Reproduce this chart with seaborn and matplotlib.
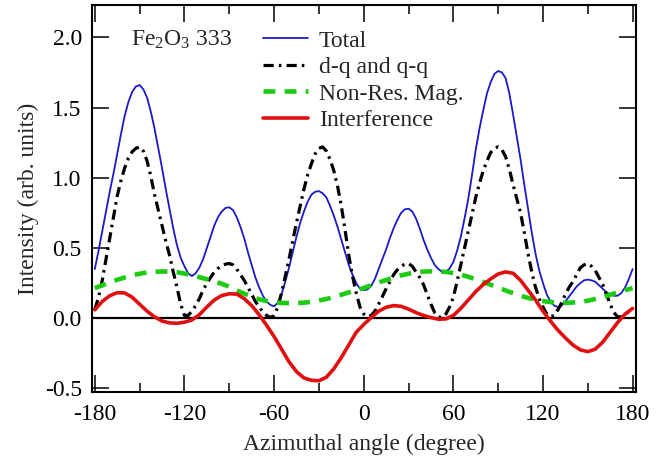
import numpy as np
import pandas as pd
import matplotlib
matplotlib.use("Agg")
import matplotlib.pyplot as plt
import seaborn as sns

# ---------------- data ----------------
# fine reading grid (2.5 deg) for the sharp curves, coarse (5 deg) for the smooth ones
angle_fine = [-180 + 2.5 * i for i in range(145)]
angle_coarse = list(range(-180, 181, 5))

total = [0.35, 0.48, 0.62, 0.76, 0.90, 1.03, 1.17, 1.31, 1.44, 1.54, 1.61, 1.65,
         1.66, 1.63, 1.57, 1.47, 1.35, 1.21, 1.07, 0.92, 0.78, 0.64, 0.52, 0.43,
         0.37, 0.32, 0.30, 0.32, 0.36, 0.42, 0.50, 0.58, 0.66, 0.72, 0.76, 0.785,
         0.79, 0.77, 0.72, 0.65, 0.57, 0.47, 0.38, 0.29, 0.22, 0.16, 0.12, 0.095,
         0.085, 0.11, 0.17, 0.26, 0.36, 0.47, 0.58, 0.68, 0.76, 0.83, 0.88, 0.90,
         0.905, 0.89, 0.86, 0.80, 0.73, 0.65, 0.56, 0.47, 0.38, 0.31, 0.25, 0.21,
         0.20, 0.205, 0.23, 0.28, 0.35, 0.42, 0.49, 0.57, 0.64, 0.70, 0.75, 0.775,
         0.78, 0.76, 0.71, 0.64, 0.56, 0.49, 0.43, 0.38, 0.35, 0.33, 0.33, 0.355,
         0.40, 0.48, 0.58, 0.71, 0.85, 1.02, 1.20, 1.35, 1.48, 1.60, 1.68, 1.74,
         1.76, 1.75, 1.71, 1.60, 1.45, 1.29, 1.13, 0.95, 0.78, 0.61, 0.46, 0.34,
         0.25, 0.17, 0.12, 0.09, 0.08, 0.09, 0.12, 0.155, 0.19, 0.225, 0.25, 0.27,
         0.275, 0.27, 0.26, 0.235, 0.21, 0.185, 0.17, 0.16, 0.16, 0.18, 0.22, 0.28,
         0.35]

dq_qq = [0.06, 0.15, 0.27, 0.42, 0.57, 0.72, 0.87, 0.98, 1.07, 1.14, 1.185, 1.21,
         1.22, 1.19, 1.12, 1.01, 0.88, 0.77, 0.66, 0.55, 0.45, 0.33, 0.22, 0.10,
         0.02, 0.02, 0.05, 0.09, 0.14, 0.20, 0.25, 0.29, 0.33, 0.355, 0.375, 0.385,
         0.39, 0.38, 0.35, 0.31, 0.27, 0.22, 0.17, 0.12, 0.08, 0.045, 0.02, 0.005,
         0.02, 0.08, 0.18, 0.30, 0.42, 0.55, 0.68, 0.80, 0.92, 1.02, 1.10, 1.17,
         1.21, 1.22, 1.19, 1.13, 1.05, 0.94, 0.80, 0.63, 0.45, 0.30, 0.18, 0.08,
         0.03, 0.01, 0.02, 0.05, 0.10, 0.155, 0.21, 0.26, 0.31, 0.345, 0.37, 0.385,
         0.39, 0.37, 0.33, 0.29, 0.24, 0.17, 0.10, 0.04, 0.01, 0.005, 0.03, 0.08,
         0.15, 0.26, 0.38, 0.50, 0.62, 0.74, 0.86, 0.96, 1.05, 1.12, 1.18, 1.21,
         1.22, 1.20, 1.15, 1.06, 0.95, 0.85, 0.75, 0.61, 0.46, 0.33, 0.22, 0.14,
         0.08, 0.03, 0.01, 0.02, 0.06, 0.11, 0.17, 0.22, 0.26, 0.31, 0.36, 0.38,
         0.39, 0.37, 0.34, 0.29, 0.24, 0.17, 0.10, 0.04, 0.01, 0.01, 0.03, 0.045,
         0.06]

non_res_mag = [0.214, 0.235, 0.255, 0.274, 0.290, 0.305, 0.317, 0.326, 0.331, 0.333,
               0.332, 0.328, 0.318, 0.306, 0.292, 0.278, 0.262, 0.245, 0.225, 0.198,
               0.175, 0.155, 0.135, 0.122, 0.114, 0.109, 0.107, 0.108, 0.111, 0.117,
               0.126, 0.137, 0.151, 0.167, 0.184, 0.200, 0.215, 0.235, 0.255, 0.272,
               0.290, 0.305, 0.317, 0.326, 0.332, 0.334, 0.333, 0.330, 0.322, 0.310,
               0.295, 0.277, 0.258, 0.238, 0.218, 0.198, 0.178, 0.160, 0.145, 0.132,
               0.122, 0.115, 0.111, 0.110, 0.112, 0.117, 0.125, 0.137, 0.151, 0.167,
               0.184, 0.200, 0.214]

interference = [0.06, 0.12, 0.16, 0.182, 0.18, 0.15, 0.10, 0.05, 0.01, -0.02,
                -0.033, -0.036, -0.028, -0.012, 0.025, 0.08, 0.13, 0.162, 0.174, 0.172,
                0.14, 0.09, 0.025, -0.05, -0.13, -0.22, -0.31, -0.38, -0.425, -0.442,
                -0.445, -0.42, -0.36, -0.28, -0.19, -0.10, -0.045, 0.005, 0.05, 0.078,
                0.09, 0.085, 0.065, 0.04, 0.02, 0.005, -0.007, -0.005, 0.02, 0.07,
                0.13, 0.19, 0.24, 0.28, 0.315, 0.33, 0.32, 0.27, 0.20, 0.13,
                0.05, -0.02, -0.085, -0.14, -0.19, -0.225, -0.238, -0.22, -0.17, -0.10,
                -0.03, 0.03, 0.07]

series_names = ["Total", "d-q and q-q", "Non-Res. Mag.", "Interference"]
x_major = [-180, -120, -60, 0, 60, 120, 180]
x_minor = [-150, -90, -30, 30, 90, 150]
y_major = [-0.5, 0.0, 0.5, 1.0, 1.5, 2.0]
annotation = "Fe$_2$O$_3$ 333"
xlabel = "Azimuthal angle (degree)"
ylabel = "Intensity (arb. units)"

# ---------------- style ----------------
sns.set_style("ticks")
plt.rcParams.update({
    "font.family": ["Liberation Serif", "DejaVu Serif"],
    "mathtext.fontset": "custom",
    "mathtext.rm": "Liberation Serif",
    "mathtext.it": "Liberation Serif:italic",
    "axes.unicode_minus": False,
})

fig = plt.figure(figsize=(6.66, 4.59), dpi=100)
ax = fig.add_axes([0.1374, 0.146, 0.8183, 0.8431])

ax.axhline(0, color="black", lw=1.6, zorder=1)

styles = [
    dict(color="#1a1ac8", lw=1.3, linestyle="-"),
    dict(color="black", lw=2.3, linestyle=(0, (3.2, 1.6, 0.8, 1.6))),
    dict(color="#1ccc10", lw=3.3, linestyle=(0, (2.6, 2.0))),
    dict(color="#e01010", lw=2.6, linestyle="-"),
]
xs = [angle_fine, angle_fine, angle_coarse, angle_coarse]
values = [total, dq_qq, non_res_mag, interference]
for name, xv, vals, st in zip(series_names, xs, values, styles):
    df = pd.DataFrame({"angle": xv, "value": vals})
    sns.lineplot(data=df, x="angle", y="value", ax=ax, label=name,
                 estimator=None, sort=False, zorder=2, **st)

ax.set_xlim(-182.2, 182.6)
ax.set_ylim(-0.525, 2.23)
ax.set_xticks(x_major)
ax.set_xticks(x_minor, minor=True)
ax.set_yticks(y_major)
ax.set_xticklabels([str(v) for v in x_major])
ax.set_yticklabels([f"{v:.1f}" for v in y_major])
ax.tick_params(which="both", direction="in", top=True, right=True,
               width=1.1, colors="black", labelsize=17)
ax.tick_params(axis="y", pad=7)
ax.tick_params(axis="x", pad=9)
ax.tick_params(which="major", length=12)
ax.tick_params(which="minor", length=6.5)
for sp in ax.spines.values():
    sp.set_linewidth(1.5)
    sp.set_color("black")

ax.set_xlabel(xlabel, fontsize=17, labelpad=6)
ax.set_ylabel(ylabel, fontsize=17, labelpad=4)

ax.text(0.072, 0.9096, annotation, transform=ax.transAxes, fontsize=17,
        va="center", ha="left")

ax.legend(loc="upper left", bbox_to_anchor=(0.315, 0.935), frameon=False,
          fontsize=17, handlelength=1.9, handletextpad=0.45,
          labelspacing=0.21, borderpad=0, borderaxespad=0)

fig.savefig("out.png", dpi=100)
